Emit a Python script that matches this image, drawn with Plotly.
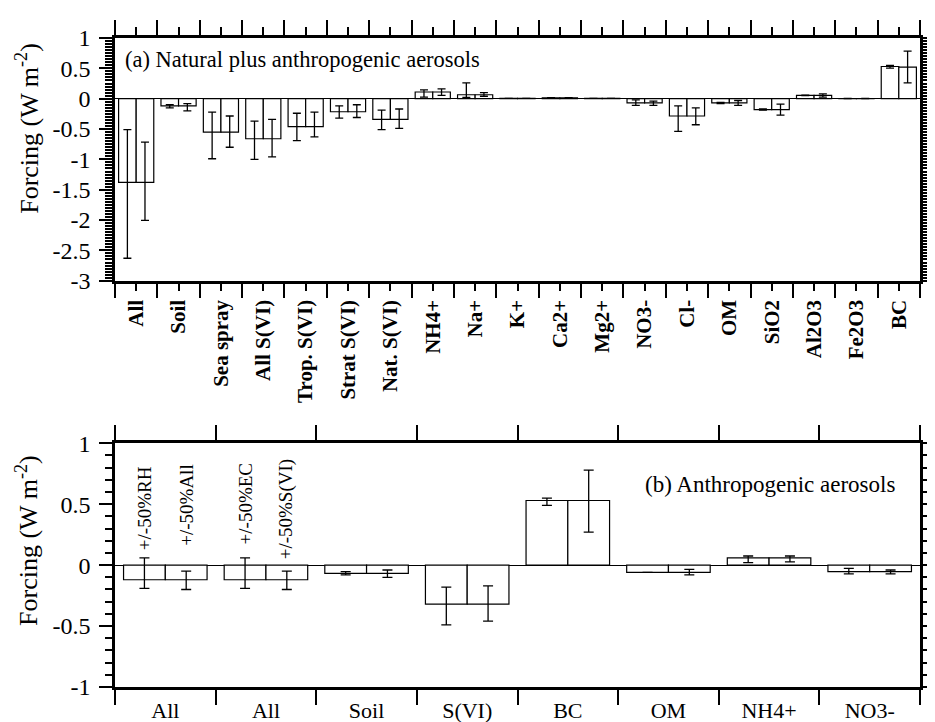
import plotly.graph_objects as go

# ---------------- data: panel (a) ----------------
cats_a = ["All", "Soil", "Sea spray", "All S(VI)", "Trop. S(VI)", "Strat S(VI)", "Nat. S(VI)",
          "NH4+", "Na+", "K+", "Ca2+", "Mg2+", "NO3-", "Cl-", "OM", "SiO2", "Al2O3", "Fe2O3", "BC"]
a1_val = [-1.38, -0.12, -0.55, -0.66, -0.46, -0.215, -0.34, 0.11, 0.065, 0.004, 0.015, 0.005,
          -0.07, -0.285, -0.07, -0.18, 0.054, 0.003, 0.53]
a1_hi = [-0.51, -0.10, -0.22, -0.37, -0.24, -0.12, -0.19, 0.145, 0.26, 0.004, 0.015, 0.005,
         -0.02, -0.12, -0.06, -0.17, 0.06, 0.003, 0.55]
a1_lo = [-2.63, -0.15, -0.99, -1.00, -0.69, -0.32, -0.51, 0.027, 0.02, 0.004, 0.015, 0.005,
         -0.11, -0.54, -0.08, -0.19, 0.05, 0.003, 0.505]
a2_val = [-1.38, -0.12, -0.55, -0.66, -0.46, -0.215, -0.34, 0.11, 0.065, 0.004, 0.015, 0.005,
          -0.07, -0.285, -0.07, -0.18, 0.054, 0.003, 0.52]
a2_hi = [-0.715, -0.08, -0.285, -0.34, -0.22, -0.10, -0.17, 0.16, 0.10, 0.004, 0.015, 0.005,
         -0.04, -0.15, -0.03, -0.09, 0.08, 0.003, 0.785]
a2_lo = [-2.005, -0.20, -0.80, -0.96, -0.63, -0.31, -0.49, 0.054, 0.04, 0.004, 0.015, 0.005,
         -0.11, -0.43, -0.11, -0.27, 0.027, 0.003, 0.26]

# ---------------- data: panel (b) ----------------
cats_b = ["All", "All", "Soil", "S(VI)", "BC", "OM", "NH4+", "NO3-"]
b1_val = [-0.12, -0.12, -0.067, -0.32, 0.53, -0.06, 0.06, -0.054]
b1_hi = [0.06, 0.06, -0.054, -0.18, 0.55, -0.06, 0.075, -0.027]
b1_lo = [-0.19, -0.19, -0.08, -0.49, 0.49, -0.06, 0.02, -0.072]
b2_val = [-0.12, -0.12, -0.067, -0.32, 0.53, -0.06, 0.06, -0.054]
b2_hi = [-0.05, -0.05, -0.04, -0.17, 0.78, -0.035, 0.075, -0.04]
b2_lo = [-0.20, -0.20, -0.10, -0.46, 0.27, -0.08, 0.027, -0.072]
sens_labels = ["+/-50%RH", "+/-50%All", "+/-50%EC", "+/-50%S(VI)"]
sens_y = [0.11, 0.14, 0.15, 0.03]

yt_a = [1, 0.5, 0, -0.5, -1, -1.5, -2, -2.5, -3]
yt_b = [1, 0.5, 0, -0.5, -1]

FONT = "Liberation Serif"


def fmt(v):
    return "%g" % v


def errs(val, hi, lo):
    plus = [max(h - v, 0) for v, h in zip(val, hi)]
    minus = [max(v - l, 0) for v, l in zip(val, lo)]
    return plus, minus


fig = go.Figure()

xa = list(range(len(cats_a)))
xb = list(range(len(cats_b)))

for i, (val, hi, lo) in enumerate([(a1_val, a1_hi, a1_lo), (a2_val, a2_hi, a2_lo)]):
    p, m = errs(val, hi, lo)
    fig.add_trace(go.Bar(x=xa, y=val, xaxis="x", yaxis="y", offsetgroup=str(i),
                         marker=dict(color="white", line=dict(color="black", width=1.2)),
                         error_y=dict(type="data", symmetric=False, array=p, arrayminus=m,
                                      color="black", thickness=1.3, width=4),
                         showlegend=False))

for i, (val, hi, lo) in enumerate([(b1_val, b1_hi, b1_lo), (b2_val, b2_hi, b2_lo)]):
    p, m = errs(val, hi, lo)
    fig.add_trace(go.Bar(x=xb, y=val, xaxis="x2", yaxis="y2", offsetgroup=str(i),
                         marker=dict(color="white", line=dict(color="black", width=1.2)),
                         error_y=dict(type="data", symmetric=False, array=p, arrayminus=m,
                                      color="black", thickness=1.3, width=5),
                         showlegend=False))

axis_common = dict(showline=True, linecolor="black", linewidth=2.5, mirror="allticks",
                   showgrid=False, ticks="outside", tickcolor="black", tickwidth=2)

minor_a = [round(-3 + 0.05 * k, 3) for k in range(81)]
minor_b = [round(-1 + 0.1 * k, 3) for k in range(21)]
bound_a = [k - 0.5 for k in range(len(cats_a) + 1)]
bound_b = [k - 0.5 for k in range(len(cats_b) + 1)]

fig.update_layout(
    width=935, height=722,
    margin=dict(l=107, r=7, t=30, b=29),
    paper_bgcolor="white", plot_bgcolor="white",
    barmode="group", bargap=0.17, bargroupgap=0,
    font=dict(family=FONT, color="black", size=21),
    xaxis=dict(**axis_common, domain=[0, 1], anchor="y", range=[-0.5, len(cats_a) - 0.5],
               tickmode="array", tickvals=xa, ticktext=["<b>%s</b>" % c for c in cats_a],
               tickangle=-90, ticklen=8, tickfont=dict(size=21),
               minor=dict(tickmode="array", tickvals=bound_a, ticklen=15,
                          tickwidth=2, tickcolor="black", ticks="outside"),
               zeroline=False),
    yaxis=dict(**axis_common, domain=[0.626, 1], anchor="x", range=[-3, 1],
               tickmode="array", tickvals=yt_a, ticktext=[fmt(v) for v in yt_a],
               ticklen=13, tickfont=dict(size=24), ticklabelstandoff=4,
               minor=dict(tickmode="array", tickvals=minor_a, ticklen=7,
                          tickwidth=1.5, tickcolor="black", ticks="outside"),
               zeroline=True, zerolinecolor="black", zerolinewidth=1.2),
    xaxis2=dict(**axis_common, domain=[0, 1], anchor="y2", range=[-0.5, len(cats_b) - 0.5],
                tickmode="array", tickvals=xb, ticktext=cats_b,
                ticklen=2, tickfont=dict(size=22),
                minor=dict(tickmode="array", tickvals=bound_b, ticklen=15,
                           tickwidth=2, tickcolor="black", ticks="outside"),
                zeroline=False),
    yaxis2=dict(**axis_common, domain=[0, 0.3756], anchor="x2", range=[-1, 1],
                tickmode="array", tickvals=yt_b, ticktext=[fmt(v) for v in yt_b],
                ticklen=13, tickfont=dict(size=24), ticklabelstandoff=4,
                minor=dict(tickmode="array", tickvals=minor_b, ticklen=7,
                           tickwidth=2, tickcolor="black", ticks="outside"),
                zeroline=True, zerolinecolor="black", zerolinewidth=1.2),
)
fig.update_layout(xaxis2_tickcolor="rgba(0,0,0,0)")

ann = []
ann.append(dict(text="(a) Natural plus anthropogenic aerosols", xref="paper", yref="y",
                x=(115 - 107) / 821, y=0.65, xanchor="left", yanchor="middle",
                showarrow=False, font=dict(size=22.5)))
ann.append(dict(text="(b) Anthropogenic aerosols", xref="paper", yref="y2",
                x=(905 - 107) / 821, y=0.66, xanchor="right", yanchor="middle",
                showarrow=False, font=dict(size=23)))
ann.append(dict(text="Forcing (W m<sup>-2</sup>)", xref="paper", yref="paper",
                x=(17 - 107) / 821, y=(693 - 122) / 663, textangle=-90,
                xanchor="center", yanchor="middle", showarrow=False, font=dict(size=26)))
ann.append(dict(text="Forcing (W m<sup>-2</sup>)", xref="paper", yref="paper",
                x=(17 - 107) / 821, y=(693 - 543) / 663, textangle=-90,
                xanchor="center", yanchor="middle", showarrow=False, font=dict(size=26)))
half = (1 - 0.17) / 4
sens_x = [0 - half, 0 + half, 1 - half, 1 + half]
for t, xx, yy in zip(sens_labels, sens_x, sens_y):
    ann.append(dict(text=t, xref="x2", yref="y2", x=xx, y=yy, textangle=-90,
                    xanchor="center", yanchor="bottom", showarrow=False,
                    font=dict(size=19)))
fig.update_layout(annotations=ann)

fig.write_html("out.html")
